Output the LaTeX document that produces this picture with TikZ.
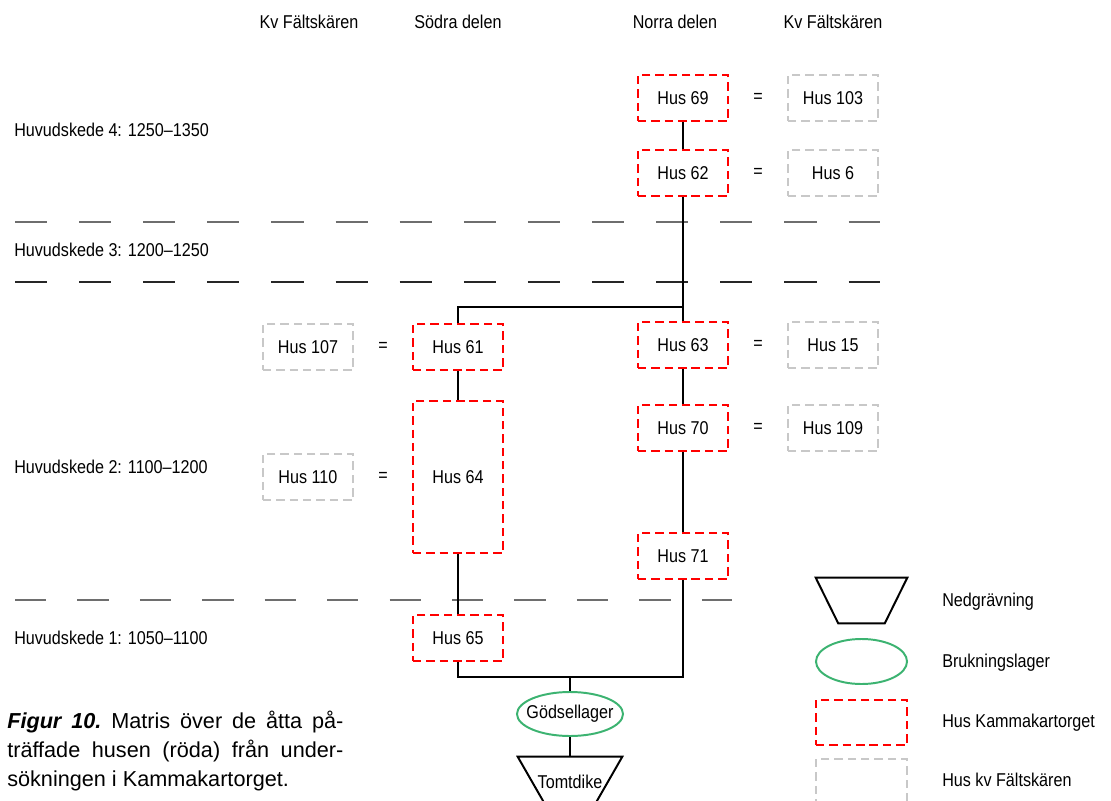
\documentclass[tikz,border=0pt]{standalone}
\usepackage{fontspec}
\setmainfont{Liberation Sans}
\newfontfamily\narrowsans[FakeStretch=0.87]{Liberation Sans}
\usetikzlibrary{positioning, shapes.geometric}
\definecolor{faltgray}{RGB}{200,200,200}
\definecolor{lagergreen}{RGB}{60,179,113}
\definecolor{sepgray}{RGB}{110,110,110}

\begin{document}
\begin{tikzpicture}[x=0.025cm, y=-0.025cm, node distance=3.75cm, on grid,
      every node/.style={font=\narrowsans\fontsize{13.2}{15}\selectfont},
      lbl/.style={anchor=west, inner xsep=0pt},
      kamma/.style={draw=red, line width=1.6pt, dash pattern=on 6pt off 3.5pt,
        minimum width=2.25cm, minimum height=1.15cm},
      falt/.style={kamma, draw=faltgray},
      lager/.style={ellipse, draw=lagergreen, line width=1.4pt, inner xsep=-6pt,
        inner ysep=0pt, minimum width=2.65cm, minimum height=1.1cm},
      grav/.style={inner sep=0pt, minimum width=2.6cm, minimum height=1.25cm},
      gravline/.style={draw, line width=1.4pt},
      sep/.style={line width=0.8pt, dash pattern=on 22.8pt off 22.8pt},
      link/.style={line width=1.4pt}]
      \useasboundingbox (0,0) rectangle (1111,801);

      % column heads
      \node (kvleft)  at (309,22) {Kv Fältskären};
      \node (sodra)   at (458,22) {Södra delen};
      \node (norra)   at (675,22) {Norra delen};
      \node (kvright) at (833,22) {Kv Fältskären};

      % phases
      \node[lbl] (fas4) at (14,130) {Huvudskede 4: 1250–1350};
      \node[lbl] (fas3) at (14,250) {Huvudskede 3: 1200–1250};
      \node[lbl] (fas2) at (14,467) {Huvudskede 2: 1100–1200};
      \node[lbl] (fas1) at (14,638) {Huvudskede 1: 1050–1100};
      \coordinate (sep1a) at (15,222);
      \coordinate (sep1b) at (880,222);
      \coordinate (sep2a) at (15,282);
      \coordinate (sep2b) at (880,282);
      \coordinate (sep3a) at (15,600);
      \coordinate (sep3b) at (732,600);
      \draw[sep, sepgray] (sep1a) -- (sep1b);
      \draw[sep, black!85] (sep2a) -- (sep2b);
      \draw[sep, sepgray, dash pattern=on 22.2pt off 22.2pt] (sep3a) -- (sep3b);

      % houses
      \node[kamma] (h69) at (683,98) {Hus 69};
      \node[falt]  (h103) [right=of h69] {Hus 103};
      \node        (eq69) [right=1.875cm of h69] {=};
      \node[kamma] (h62) at (683,173) {Hus 62};
      \node[falt]  (h6) [right=of h62] {Hus 6};
      \node        (eq62) [right=1.875cm of h62] {=};
      \node[kamma] (h63) at (683,345) {Hus 63};
      \node[falt]  (h15) [right=of h63] {Hus 15};
      \node        (eq63) [right=1.875cm of h63] {=};
      \node[kamma] (h70) at (683,428) {Hus 70};
      \node[falt]  (h109) [right=of h70] {Hus 109};
      \node        (eq70) [right=1.875cm of h70] {=};
      \node[kamma] (h71) at (683,556) {Hus 71};
      \node[kamma] (h61) at (458,347) {Hus 61};
      \node[falt]  (h107) [left=of h61] {Hus 107};
      \node        (eq61) [left=1.875cm of h61] {=};
      \node[kamma, minimum height=3.8cm] (h64) at (458,477) {Hus 64};
      \node[falt]  (h110) [left=of h64] {Hus 110};
      \node        (eq64) [left=1.875cm of h64] {=};
      \node[kamma] (h65) at (458,638) {Hus 65};
      \node[lager] (godsel) at (570,714) {Gödsellager};
      \node[grav]  (tomt) at (570,782) {Tomtdike};
      \draw[gravline] (tomt.north west) -- (tomt.north east)
        -- ([xshift=-0.725cm]tomt.south east) -- ([xshift=0.725cm]tomt.south west) -- cycle;

      \coordinate (split) at (683,307);
      \coordinate (join) at (570,677);
      \draw[link] (h69) -- (h62);
      \draw[link] (h62) -- (split) -- (h63);
      \draw[link] (split) -| (h61);
      \draw[link] (h61) -- (h64);
      \draw[link] (h64) -- (h65);
      \draw[link] (h63) -- (h70);
      \draw[link] (h70) -- (h71);
      \draw[link] (h65) |- (join) -| (h71);
      \draw[link] (join) -- (godsel);
      \draw[link] (godsel) -- (tomt);

      % legend
      \node[grav, minimum width=2.275cm, minimum height=1.125cm] (legGrav) at (861.5,600.5) {};
      \draw[gravline] (legGrav.north west) -- (legGrav.north east)
        -- ([xshift=-0.5625cm]legGrav.south east) -- ([xshift=0.5625cm]legGrav.south west) -- cycle;
      \node[lbl] (legGravTxt) at (942,602) {Nedgrävning};
      \node[lager, minimum width=2.275cm, minimum height=1.125cm] (legLager) at (861.5,661.5) {};
      \node[lbl] (legLagerTxt) at (942,663) {Brukningslager};
      \node[kamma, minimum width=2.275cm, minimum height=1.125cm] (legKamma) at (861.5,722.5) {};
      \node[lbl] (legKammaTxt) at (942,723) {Hus Kammakartorget};
      \node[falt, minimum width=2.275cm, minimum height=1.125cm] (legFalt) at (861.5,781.5) {};
      \node[lbl] (legFaltTxt) at (942,780) {Hus kv Fältskären};

      % caption
      \node[anchor=north west, inner sep=0pt, text width=8.4cm, align=justify,
        font=\rmfamily\fontsize{15.4}{20.6}\selectfont\frenchspacing] (caption) at (7,711)
        {\textbf{\textit{Figur 10.}} Matris över de åtta på-\linebreak
         träffade husen (röda) från under-\linebreak
         sökningen i Kammakartorget.};
    \end{tikzpicture}
\end{document}
